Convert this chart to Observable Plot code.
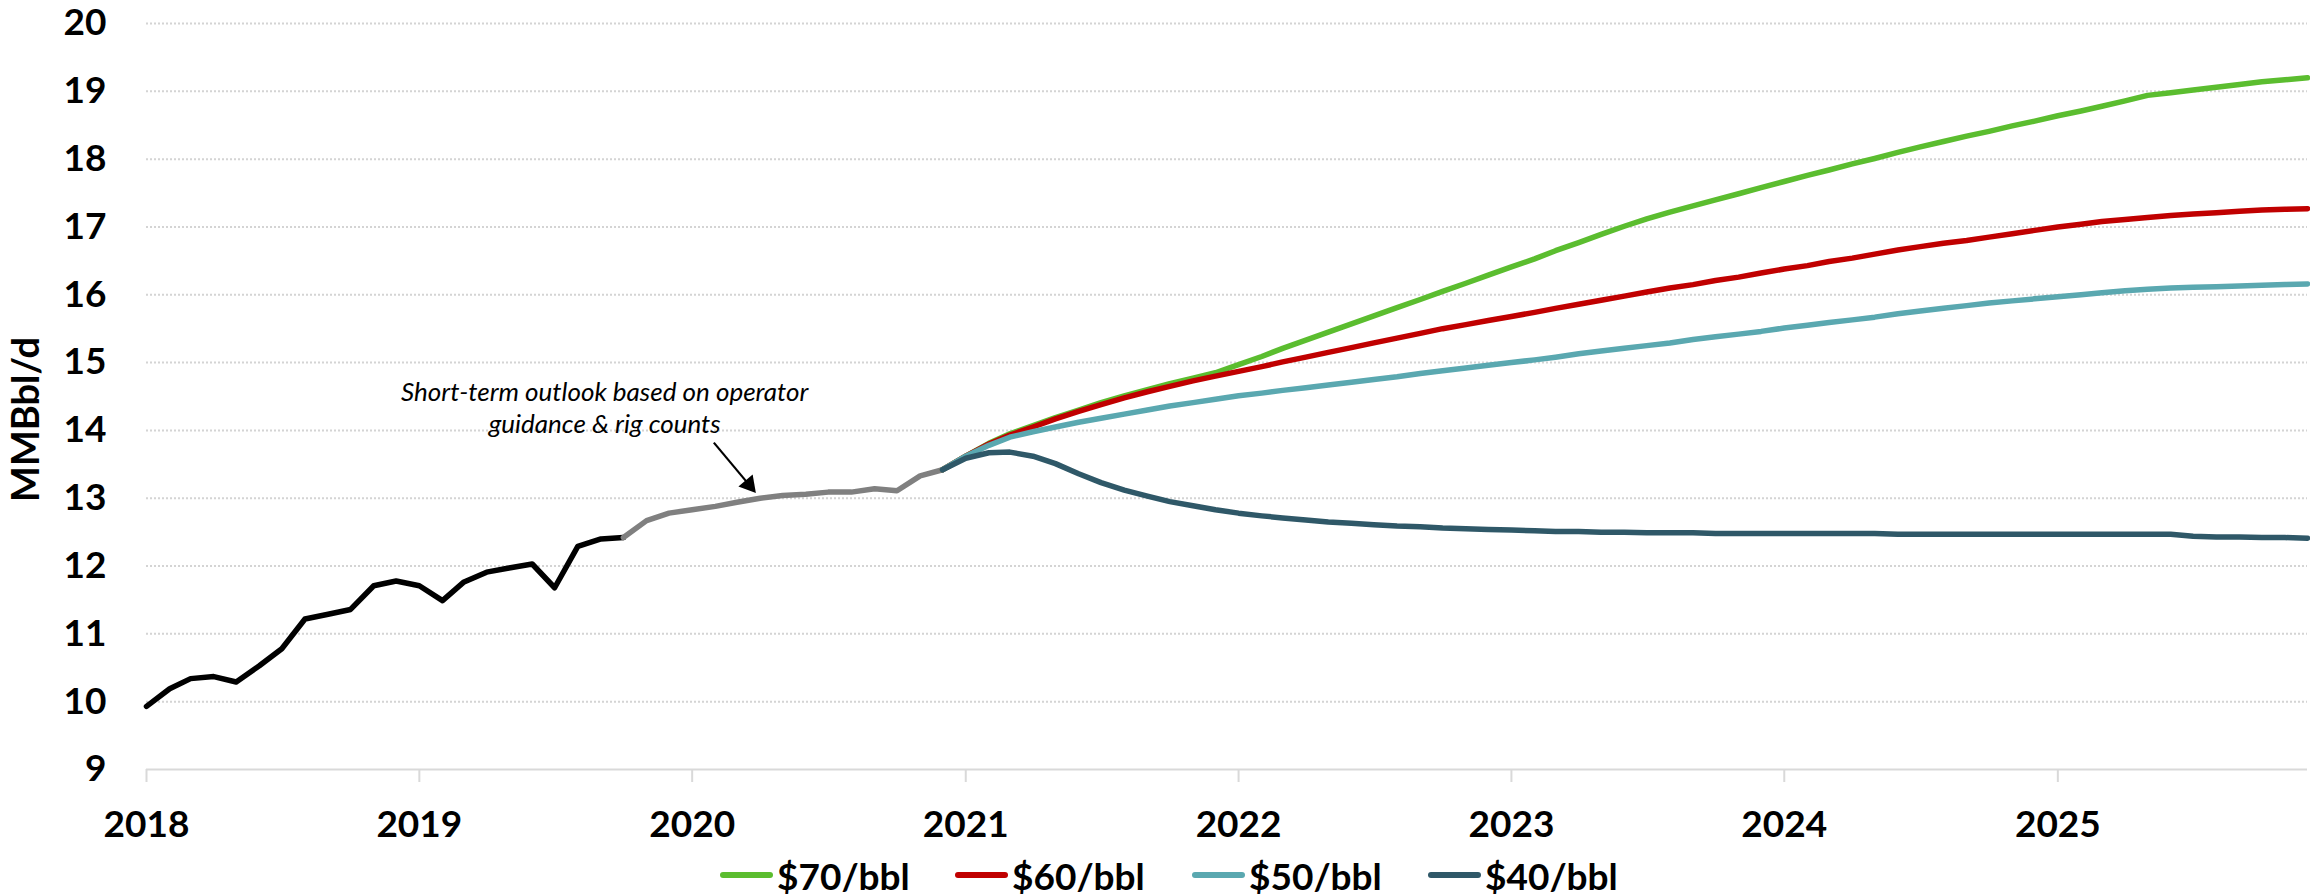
<!DOCTYPE html>
<html><head><meta charset="utf-8">
<script src="https://cdn.jsdelivr.net/npm/d3@7"></script>
<script src="https://cdn.jsdelivr.net/npm/@observablehq/plot@0.6"></script>
<style>
html,body{margin:0;padding:0;background:#fff;width:2310px;height:894px;overflow:hidden;}
#chart svg{display:block;}
#legend{position:relative;height:42px;font-family:Lato,sans-serif;font-weight:700;font-size:37px;color:#000;}
.item{position:absolute;top:0;height:46px;display:flex;align-items:center;white-space:nowrap;}
.swatch{width:53px;height:6px;border-radius:3px;margin-right:4px;}
</style></head><body>
<div id="chart"></div>
<div id="legend"></div>
<script>
// ---- data ----
const historicStart = "2018-01-01";
const historic = [9.93,10.19,10.34,10.37,10.29,10.53,10.78,11.22,11.29,11.36,11.71,11.78,
  11.71,11.49,11.76,11.91,11.97,12.03,11.68,12.29,12.40,12.42];
const shortTermStart = "2019-10-01";
const shortTerm = [12.42,12.67,12.78,12.83,12.88,12.94,13.00,13.04,13.06,13.09,13.09,13.14,13.11,13.33,13.42];
const scenarioStart = "2020-12-01";
const p70 = [13.42,13.62,13.81,13.95,14.07,14.19,14.30,14.41,14.51,14.60,14.69,14.77,14.85,
  14.97,15.09,15.21,15.33,15.45,15.57,15.69,15.81,15.93,16.05,16.17,16.29,
  16.41,16.53,16.65,16.77,16.89,17.01,17.12,17.22,17.31,17.40,17.49,17.58,
  17.67,17.76,17.84,17.93,18.01,18.10,18.18,18.26,18.34,18.41,18.49,18.56,
  18.64,18.71,18.78,18.86,18.94,18.98,19.02,19.06,19.10,19.14,19.17,19.20];
const p60 = [13.42,13.62,13.80,13.93,14.05,14.17,14.28,14.38,14.48,14.57,14.65,14.73,14.80,
  14.87,14.94,15.01,15.08,15.15,15.22,15.29,15.36,15.43,15.50,15.56,15.62,
  15.68,15.74,15.80,15.86,15.92,15.98,16.04,16.10,16.15,16.21,16.26,16.32,
  16.38,16.43,16.49,16.54,16.60,16.66,16.71,16.76,16.80,16.85,16.90,16.95,
  17.00,17.04,17.08,17.11,17.14,17.17,17.19,17.21,17.23,17.25,17.26,17.27];
const p50 = [13.42,13.62,13.78,13.90,13.98,14.05,14.12,14.18,14.24,14.30,14.36,14.41,14.46,
  14.51,14.55,14.59,14.63,14.67,14.71,14.75,14.79,14.84,14.88,14.92,14.96,
  15.00,15.04,15.08,15.13,15.17,15.21,15.25,15.29,15.34,15.38,15.42,15.46,
  15.51,15.55,15.59,15.63,15.67,15.72,15.76,15.80,15.84,15.88,15.91,15.94,
  15.97,16.00,16.03,16.06,16.08,16.10,16.11,16.12,16.13,16.14,16.15,16.16];
const p40 = [13.42,13.59,13.67,13.68,13.62,13.51,13.36,13.23,13.12,13.03,12.95,12.89,12.83,
  12.78,12.74,12.71,12.68,12.65,12.63,12.61,12.59,12.58,12.56,12.55,12.54,
  12.53,12.52,12.51,12.51,12.50,12.50,12.49,12.49,12.49,12.48,12.48,12.48,
  12.48,12.48,12.48,12.48,12.48,12.47,12.47,12.47,12.47,12.47,12.47,12.47,
  12.47,12.47,12.47,12.47,12.47,12.47,12.44,12.43,12.43,12.42,12.42,12.41];
const scenarioNames = ["$70/bbl","$60/bbl","$50/bbl","$40/bbl"];
const scenarioColors = ["#5BBD2F","#C00000","#5AA8B0","#2F5868"];
const historyColor = "#000000";
const shortTermColor = "#808080";
const yearTicks = [2018,2019,2020,2021,2022,2023,2024,2025];
const yTicks = [9,10,11,12,13,14,15,16,17,18,19,20];
const gridTicks = [10,11,12,13,14,15,16,17,18,19,20];
const xDomain = ["2018-01-01","2025-12-01"];
const yDomain = [9,20];
const yLabel = "MMBbl/d";
const noteLines = ["Short-term outlook based on operator","guidance & rig counts"];
const note = {date:"2019-09-06", value:14.35};
const arrowFrom = {date:"2020-01-30", value:13.82};
const arrowHead = {date:"2020-03-17", value:13.20};

// ---- build tables ----
const monthly = (start, arr, series) => arr.map((v,i)=>({date:d3.utcMonth.offset(new Date(start),i), value:v, series}));
const histRows = monthly(historicStart, historic, "hist");
const shortRows = monthly(shortTermStart, shortTerm, "short");
const scen = [p70,p60,p50,p40];
const scenRows = scen.map((arr,k)=>monthly(scenarioStart, arr, scenarioNames[k]));
const parse = s => new Date(s);

const marks = [
  Plot.gridY(gridTicks, {stroke:"#d4d4d4", strokeOpacity:1, strokeWidth:2, strokeDasharray:"2,2"}),
  Plot.ruleY([yDomain[0]], {stroke:"#d9d9d9", strokeWidth:2}),
  Plot.axisY(yTicks, {tickSize:0, tickPadding:40, label:null, tickFormat:d3.format("d"), fontSize:37, fontWeight:700, fill:"#000"}),
  Plot.axisX(yearTicks.map(y=>new Date(Date.UTC(y,0,1))), {tickSize:13, tickPadding:28, stroke:"#d9d9d9", strokeWidth:2,
    tickFormat:d3.utcFormat("%Y"), label:null, fontSize:37, fontWeight:700, fill:"#000"}),
  Plot.text([yLabel], {frameAnchor:"left", text:d=>d, rotate:-90, textAnchor:"middle", lineAnchor:"middle",
    dx:-120, dy:23, fontSize:38, fontWeight:700, fill:"#000"}),
  Plot.line(histRows, {x:"date", y:"value", stroke:historyColor, strokeWidth:5.5, strokeLinejoin:"round"}),
  Plot.line(shortRows, {x:"date", y:"value", stroke:shortTermColor, strokeWidth:5.5, strokeLinejoin:"round"}),
  ...scenRows.map((rows,k)=>Plot.line(rows, {x:"date", y:"value", stroke:scenarioColors[k], strokeWidth:5.5, strokeLinejoin:"round"})),
  Plot.text([note], {x:d=>parse(d.date), y:"value", text:()=>noteLines.join("\n"), lineHeight:1.23, fontSize:26,
    fontStyle:"italic", fontWeight:400, fill:"#000", textAnchor:"middle"}),
  Plot.link([{a:arrowFrom,b:arrowHead}], {x1:d=>parse(d.a.date), y1:d=>d.a.value, x2:d=>parse(d.b.date), y2:d=>d.b.value,
    stroke:"#000", strokeWidth:2.2}),
  Plot.dot([arrowHead], {x:d=>parse(d.date), y:"value", symbol:"triangle", r:6.9, rotate:140, fill:"#000", stroke:"none"})
];

const chart = Plot.plot({
  width:2310, height:852,
  marginLeft:146, marginRight:3, marginTop:23, marginBottom:83,
  x:{type:"utc", domain:xDomain.map(parse)},
  y:{domain:yDomain},
  style:{fontFamily:"Lato, sans-serif", background:"#fff", color:"#000", overflow:"visible"},
  marks
});
document.getElementById("chart").appendChild(chart);

// ---- legend (below the svg) ----
const legendLeft = [720,955,1192,1428];
const legend = document.getElementById("legend");
scenarioNames.forEach((name,k)=>{
  const it = document.createElement("div");
  it.className = "item";
  it.style.left = legendLeft[k] + "px";
  const sw = document.createElement("span");
  sw.className = "swatch"; sw.style.background = scenarioColors[k];
  const tx = document.createElement("span");
  tx.textContent = name;
  it.appendChild(sw); it.appendChild(tx);
  legend.appendChild(it);
});
</script>
</body></html>
